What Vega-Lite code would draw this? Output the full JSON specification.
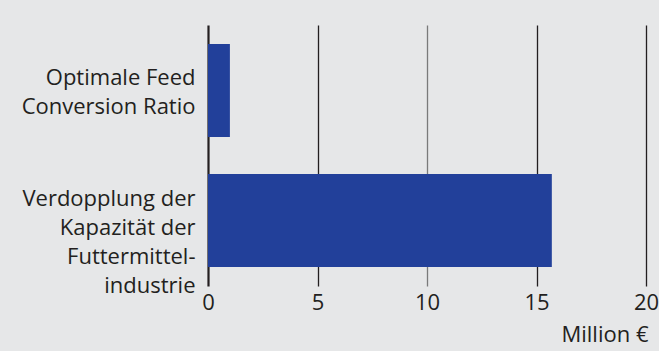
{
  "$schema": "https://vega.github.io/schema/vega-lite/v6.json",
  "width": 438,
  "height": 261,
  "autosize": {"type": "none"},
  "padding": {"left": 208, "top": 25, "right": 13, "bottom": 65},
  "background": "#e6e7e8",
  "data": {
    "values": [
      {"kategorie": "Optimale Feed |Conversion Ratio", "wert": 1.0},
      {"kategorie": "Verdopplung der |Kapazität der |Futtermittel-|industrie", "wert": 15.7}
    ]
  },
  "mark": {"type": "bar", "color": "#22409a"},
  "encoding": {
    "y": {
      "field": "kategorie",
      "type": "nominal",
      "sort": null,
      "title": null,
      "scale": {"paddingInner": 0.285, "paddingOuter": 0.146},
      "axis": {
        "labelExpr": "split(datum.label, '|')",
        "domain": false,
        "ticks": false,
        "grid": false,
        "labelPadding": 13,
        "labelFontSize": 22,
        "labelLineHeight": 29,
        "labelFont": "Open Sans",
        "labelColor": "#231f20",
        "labelLimit": 250,
        "labelOffset": {"condition": {"test": "indexof(datum.value, 'Verdopplung') >= 0", "value": -22}, "value": -12}
      }
    },
    "x": {
      "field": "wert",
      "type": "quantitative",
      "scale": {"domain": [0, 20]},
      "title": "Million €",
      "axis": {
        "values": [0, 5, 10, 15, 20],
        "domain": false,
        "ticks": false,
        "grid": true,
        "gridColor": {"condition": {"test": "datum.value == 10", "value": "#7a7a7a"}, "value": "#231f20"},
        "gridWidth": {"condition": {"test": "datum.value == 0", "value": 2.2}, "value": 1.3},
        "labelPadding": 6,
        "labelFontSize": 22,
        "labelFont": "Open Sans",
        "labelColor": "#231f20",
        "labelFlush": false,
        "titleFont": "Open Sans",
        "titleFontSize": 22,
        "titleFontWeight": "normal",
        "titleColor": "#231f20",
        "titleAnchor": "end",
        "titleAlign": "right",
        "titleX": 440,
        "titleY": 55,
        "titleBaseline": "alphabetic"
      }
    }
  },
  "config": {"view": {"stroke": null}}
}
